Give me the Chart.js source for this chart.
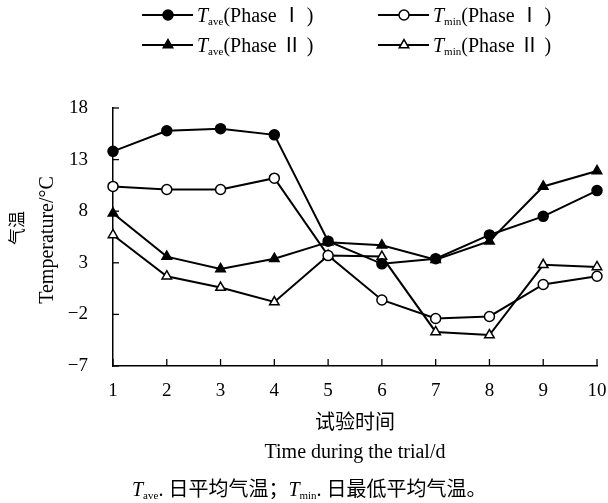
<!DOCTYPE html>
<html>
<head>
<meta charset="utf-8">
<script src="https://cdn.jsdelivr.net/npm/chart.js@4/dist/chart.umd.min.js"></script>
<style>
  html, body { margin: 0; padding: 0; background: #fff; }
  #wrap { width: 608px; height: 503px; position: relative; }
</style>
</head>
<body>
<div id="wrap"><canvas id="tempChart"></canvas></div>
<script>
// data
const days = ['1', '2', '3', '4', '5', '6', '7', '8', '9', '10'];
const taveP1 = [13.8, 15.8, 16.0, 15.4, 5.1, 2.9, 3.4, 5.7, 7.5, 10.0];
const tminP1 = [10.4, 10.1, 10.1, 11.2, 3.7, -0.6, -2.4, -2.2, 0.9, 1.7];
const taveP2 = [7.8, 3.6, 2.4, 3.4, 5.0, 4.7, 3.3, 5.1, 10.4, 11.9];
const tminP2 = [5.7, 1.7, 0.6, -0.8, 3.7, 3.6, -3.7, -4.0, 2.8, 2.6];
const yTicks = [-7, -2, 3, 8, 13, 18];

const serif = "'Liberation Serif', 'Times New Roman', 'Noto Sans CJK SC', serif";

function series(data, style, filled) {
    return {
        data: data,
        borderColor: '#000',
        borderWidth: 2,
        backgroundColor: filled ? '#000' : '#fff',
        pointStyle: style,
        pointRadius: style === 'triangle' ? 5.5 : 5,
        pointBorderWidth: 1.5,
        pointBorderColor: '#000',
        pointBackgroundColor: filled ? '#000' : '#fff',
        tension: 0,
        fill: false
    };
}

// text with italic T and small subscript pieces
function drawRich(ctx, parts, x, y) {
    parts.forEach(p => {
        ctx.font = (p.italic ? 'italic ' : '') + p.size + 'px ' + serif;
        ctx.fillText(p.text, x, y + (p.dy || 0));
        x += ctx.measureText(p.text).width;
    });
}

function tSub(sub) {
    return [{ text: 'T', size: 20, italic: true }, { text: sub, size: 11, dy: 3 }];
}

const legendItems = [
    { ds: 0, x: 142, y: 15, parts: tSub('ave').concat([{ text: '(Phase Ⅰ )', size: 20 }]) },
    { ds: 1, x: 378, y: 15, parts: tSub('min').concat([{ text: '(Phase Ⅰ )', size: 20 }]) },
    { ds: 2, x: 142, y: 45, parts: tSub('ave').concat([{ text: '(Phase Ⅱ )', size: 20 }]) },
    { ds: 3, x: 378, y: 45, parts: tSub('min').concat([{ text: '(Phase Ⅱ )', size: 20 }]) }
];

const extras = {
    id: 'extras',
    afterDraw(chart) {
        const ctx = chart.ctx;
        const area = chart.chartArea;
        const xs = chart.scales.x, ys = chart.scales.y;
        ctx.save();
        ctx.strokeStyle = '#000';
        ctx.fillStyle = '#000';
        ctx.lineWidth = 1.3;

        // inward tick marks
        ys.ticks.forEach(t => {
            const py = ys.getPixelForValue(t.value);
            ctx.beginPath();
            ctx.moveTo(area.left, py);
            ctx.lineTo(area.left + 6, py);
            ctx.stroke();
        });
        xs.ticks.forEach((t, i) => {
            const px = xs.getPixelForValue(i);
            ctx.beginPath();
            ctx.moveTo(px, area.bottom);
            ctx.lineTo(px, area.bottom - 7);
            ctx.stroke();
        });

        // legend
        legendItems.forEach(item => {
            const ds = chart.data.datasets[item.ds];
            ctx.lineWidth = 2;
            ctx.beginPath();
            ctx.moveTo(item.x, item.y);
            ctx.lineTo(item.x + 51, item.y);
            ctx.stroke();
            ctx.fillStyle = ds.pointBackgroundColor;
            ctx.lineWidth = 1.5;
            Chart.helpers.drawPoint(ctx, {
                pointStyle: ds.pointStyle,
                radius: ds.pointRadius,
                borderWidth: 1.5,
                rotation: 0
            }, item.x + 26, item.y);
            ctx.fillStyle = '#000';
            ctx.textBaseline = 'alphabetic';
            ctx.textAlign = 'left';
            drawRich(ctx, item.parts, item.x + 55, item.y + 7);
        });

        // axis titles
        const cx = (area.left + area.right) / 2;
        ctx.textAlign = 'center';
        ctx.textBaseline = 'middle';
        ctx.font = '20px ' + serif;
        ctx.fillText('试验时间', cx, 424);
        ctx.fillText('Time during the trial/d', cx, 453);

        ctx.save();
        ctx.translate(19, 228);
        ctx.rotate(-Math.PI / 2);
        ctx.font = '17px ' + serif;
        ctx.fillText('气温', 0, 0);
        ctx.restore();
        ctx.save();
        ctx.translate(48, 240);
        ctx.rotate(-Math.PI / 2);
        ctx.font = '20px ' + serif;
        ctx.fillText('Temperature/°C', 0, 0);
        ctx.restore();

        // note
        ctx.textAlign = 'left';
        ctx.textBaseline = 'alphabetic';
        drawRich(ctx, tSub('ave').concat([{ text: '. 日平均气温；', size: 20 }])
            .concat(tSub('min')).concat([{ text: '. 日最低平均气温。', size: 20 }]), 132, 496);
        ctx.restore();
    }
};

new Chart(document.getElementById('tempChart'), {
    type: 'line',
    data: {
        labels: days,
        datasets: [
            series(taveP1, 'circle', true),
            series(tminP1, 'circle', false),
            series(taveP2, 'triangle', true),
            series(tminP2, 'triangle', false)
        ]
    },
    options: {
        responsive: true,
        maintainAspectRatio: false,
        animation: false,
        events: [],
        layout: { padding: { top: 108, right: 11, left: 0, bottom: 0 } },
        plugins: {
            legend: { display: false },
            tooltip: { enabled: false }
        },
        scales: {
            x: {
                offset: false,
                grid: { display: false, drawTicks: false },
                border: { color: '#000', width: 1.5 },
                ticks: {
                    color: '#000',
                    padding: 14,
                    maxRotation: 0,
                    font: { family: serif, size: 19 }
                },
                afterFit: scale => {
                    scale.height = 137;
                    scale.paddingLeft = 0;
                    scale.paddingRight = 0;
                }
            },
            y: {
                min: yTicks[0],
                max: yTicks[yTicks.length - 1],
                grid: { display: false, drawTicks: false },
                border: { color: '#000', width: 1.5 },
                afterBuildTicks: scale => { scale.ticks = yTicks.map(v => ({ value: v })); },
                ticks: {
                    color: '#000',
                    padding: 25,
                    font: { family: serif, size: 19 },
                    callback: v => v < 0 ? '\u2212' + Math.abs(v) : String(v)
                },
                afterFit: scale => { scale.width = 113; }
            }
        }
    },
    plugins: [extras]
});
</script>
</body>
</html>
